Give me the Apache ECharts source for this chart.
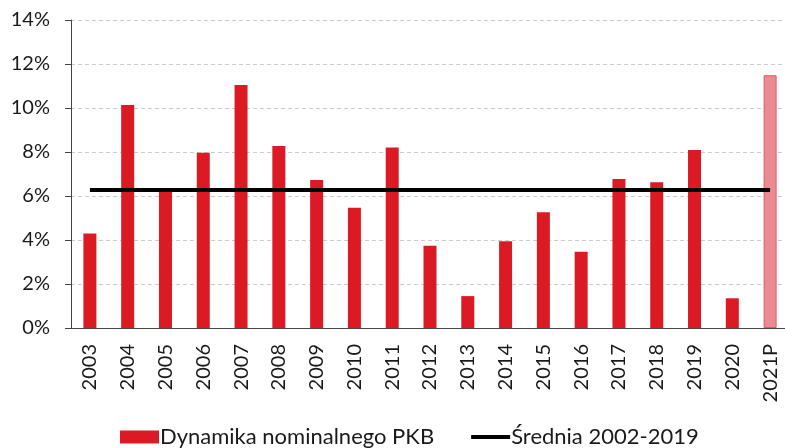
<!DOCTYPE html>
<html>
<head>
<meta charset="utf-8">
<script src="https://cdn.jsdelivr.net/npm/echarts@6/dist/echarts.min.js"></script>
<style>
  html, body { margin: 0; padding: 0; background: #fff; overflow: hidden; }
  #chart { width: 789px; height: 448px; }
</style>
</head>
<body>
<div id="chart"></div>
<script>
const years = ['2003', '2004', '2005', '2006', '2007', '2008', '2009', '2010', '2011', '2012',
  '2013', '2014', '2015', '2016', '2017', '2018', '2019', '2020', '2021P']
// dynamika nominalnego PKB, %
const pkbValues = [4.30, 10.14, 6.2, 7.97, 11.05, 8.27, 6.73, 5.47, 8.2, 3.74,
  1.45, 3.94, 5.26, 3.47, 6.77, 6.62, 8.09, 1.35, 11.49]
const avgValue = 6.27
const yTicks = [0, 2, 4, 6, 8, 10, 12, 14]

const font = 'Lato, "Open Sans", sans-serif'
const chart = echarts.init(document.getElementById('chart'))

const barData = pkbValues.map(function(v, i) {
  if (years[i] === '2021P') {
    // prognoza - jasniejszy slupek
    return { value: v, itemStyle: { color: '#ea8b92', borderColor: '#de5a66', borderWidth: 1 } }
  }
  return v
})

chart.setOption({
  animation: false,
  grid: { left: 71, right: 0, top: 20, bottom: 120 },
  legend: {
    bottom: -5,
    left: 115,
    itemGap: 37,
    itemWidth: 39,
    itemHeight: 13,
    textStyle: { fontFamily: font, fontSize: 22, color: '#1a1a1a', padding: [0, 0, 0, -4] },
    data: [
      { name: 'Dynamika nominalnego PKB', icon: 'rect' },
      { name: 'Średnia 2002-2019', icon: 'path://M0,0 L40,0 L40,4 L0,4 Z' }
    ]
  },
  xAxis: {
    type: 'category',
    data: years,
    axisLine: { lineStyle: { color: '#444', width: 1 } },
    axisTick: { show: false },
    axisLabel: {
      rotate: 90,
      fontFamily: font,
      fontSize: 20,
      color: '#1a1a1a',
      margin: 16
    }
  },
  yAxis: {
    type: 'value',
    min: yTicks[0],
    max: yTicks[yTicks.length - 1],
    interval: 2,
    axisLine: { show: true, lineStyle: { color: '#444', width: 1 } },
    axisTick: { show: true, length: 6, lineStyle: { color: '#444' } },
    splitLine: { lineStyle: { color: '#ccc', type: [4, 3] } },
    axisLabel: {
      formatter: '{value}%',
      fontFamily: font,
      fontSize: 20,
      color: '#1a1a1a',
      margin: 21
    }
  },
  series: [
    {
      name: 'Dynamika nominalnego PKB',
      type: 'bar',
      barWidth: 13,
      itemStyle: { color: '#dc1a24' },
      data: barData
    },
    {
      name: 'Średnia 2002-2019',
      type: 'line',
      symbol: 'none',
      lineStyle: { color: '#000', width: 4 },
      itemStyle: { color: '#000' },
      data: years.map(function() { return avgValue })
    }
  ]
})
</script>
</body>
</html>
